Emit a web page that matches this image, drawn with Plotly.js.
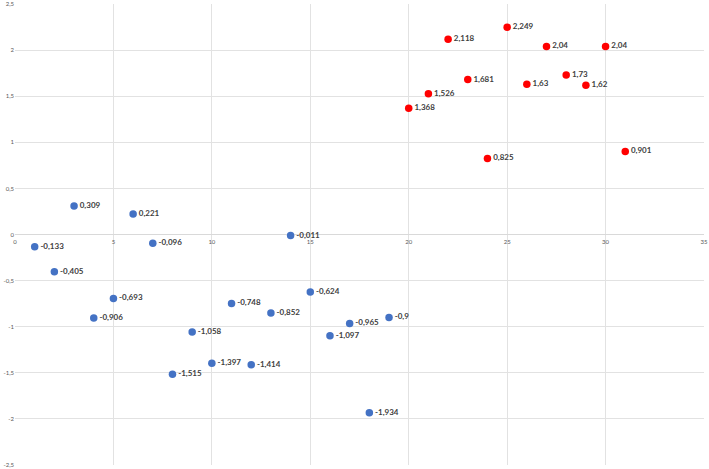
<!DOCTYPE html>
<html><head><meta charset="utf-8">
<script src="https://cdn.plot.ly/plotly-3.0.1.min.js"></script>
<style>html,body{margin:0;padding:0;background:#fff;}#chart{width:709px;height:469px;}</style>
</head><body><div id="chart"></div>
<script>
const blueX = [1,2,3,4,5,6,7,8,9,10,11,12,13,14,15,16,17,18,19];
const blueY = [-0.133,-0.405,0.309,-0.906,-0.693,0.221,-0.096,-1.515,-1.058,-1.397,-0.748,-1.414,-0.852,-0.011,-0.624,-1.097,-0.965,-1.934,-0.9];
const redX = [20,21,22,23,24,25,26,27,28,29,30,31];
const redY = [1.368,1.526,2.118,1.681,0.825,2.249,1.63,2.04,1.73,1.62,2.04,0.901];
const xTicks = [0,5,10,15,20,25,30,35];
const yTicks = [-2.5,-2,-1.5,-1,-0.5,0,0.5,1,1.5,2,2.5];

const fmt = v => String(v).replace('.', ',');
const labelFont = {family: 'Lato, "Open Sans", sans-serif', size: 8, color: '#404040', weight: 'bold'};

const traces = [
  {x: blueX, y: blueY, mode: 'markers+text', type: 'scatter', text: blueY.map(fmt),
   textposition: 'middle right', textfont: labelFont,
   marker: {color: '#4472C4', size: 7.5}, cliponaxis: false, hoverinfo: 'none'},
  {x: redX, y: redY, mode: 'markers+text', type: 'scatter', text: redY.map(fmt),
   textposition: 'middle right', textfont: labelFont,
   marker: {color: '#FF0000', size: 7.5}, cliponaxis: false, hoverinfo: 'none'}
];

const layout = {
  width: 709, height: 469,
  margin: {l: 15, r: 5, t: 4, b: 4, pad: 0},
  showlegend: false,
  separators: ',.',
  paper_bgcolor: '#fff', plot_bgcolor: '#fff',
  xaxis: {range: [0, 35], tickvals: xTicks, ticktext: xTicks.map(fmt),
    anchor: 'free', position: 0.5, showgrid: true, gridcolor: '#e2e2e2', gridwidth: 1,
    zeroline: false, showline: false, ticks: '', ticklabelstandoff: 2,
    tickfont: {family: 'Lato, sans-serif', size: 6, color: '#595959'}},
  yaxis: {range: [-2.5, 2.5], tickvals: yTicks, ticktext: yTicks.map(fmt),
    showgrid: true, gridcolor: '#e2e2e2', gridwidth: 1,
    zeroline: true, zerolinecolor: '#d9d9d9', zerolinewidth: 1, showline: false, ticks: '',
    tickfont: {family: 'Lato, sans-serif', size: 6, color: '#595959'}}
};

Plotly.newPlot('chart', traces, layout, {staticPlot: true, displayModeBar: false});
</script>
</body></html>
